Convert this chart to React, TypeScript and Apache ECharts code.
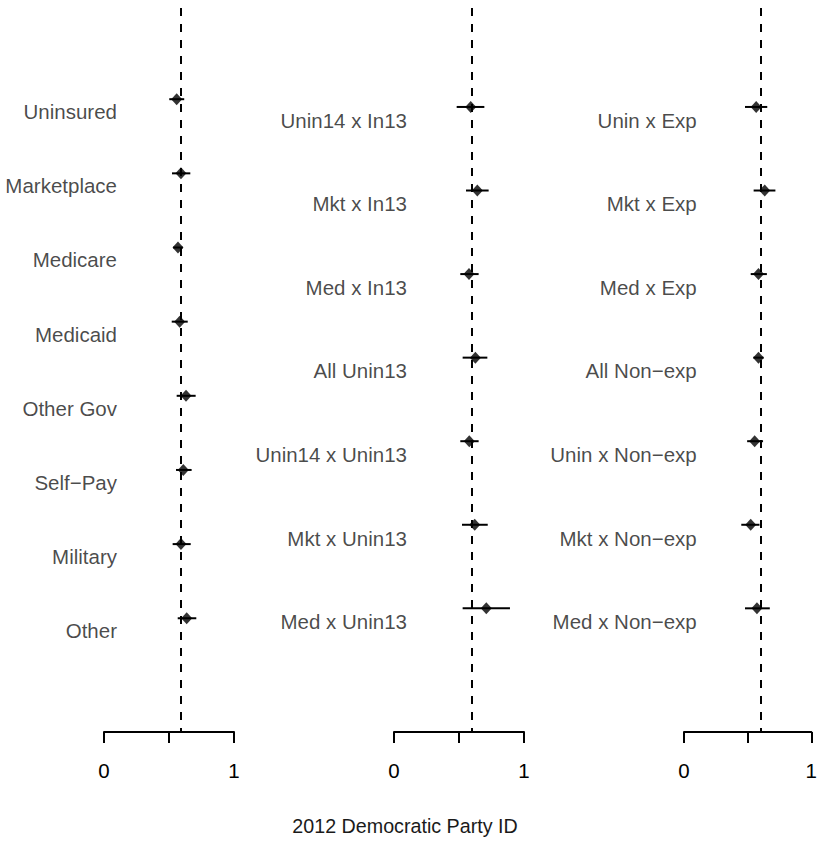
import React, { useEffect, useRef } from "react";
import * as echarts from "echarts";

// ---------- data ----------
const P1_LABELS = ["Uninsured", "Marketplace", "Medicare", "Medicaid", "Other Gov", "Self\u2212Pay", "Military", "Other"];
const P1_EST = [0.559, 0.592, 0.569, 0.582, 0.631, 0.610, 0.592, 0.636];
const P1_LO = [0.502, 0.523, 0.532, 0.521, 0.559, 0.554, 0.528, 0.567];
const P1_HI = [0.617, 0.664, 0.606, 0.644, 0.705, 0.674, 0.667, 0.710];

const P2_LABELS = ["Unin14 x In13", "Mkt x In13", "Med x In13", "All Unin13", "Unin14 x Unin13", "Mkt x Unin13", "Med x Unin13"];
const P2_EST = [0.590, 0.641, 0.577, 0.626, 0.579, 0.621, 0.710];
const P2_LO = [0.482, 0.554, 0.510, 0.528, 0.510, 0.523, 0.528];
const P2_HI = [0.695, 0.728, 0.651, 0.718, 0.651, 0.721, 0.892];

const P3_LABELS = ["Unin x Exp", "Mkt x Exp", "Med x Exp", "All Non\u2212exp", "Unin x Non\u2212exp", "Mkt x Non\u2212exp", "Med x Non\u2212exp"];
const P3_EST = [0.567, 0.634, 0.585, 0.585, 0.555, 0.524, 0.573];
const P3_LO = [0.479, 0.547, 0.524, 0.545, 0.496, 0.450, 0.479];
const P3_HI = [0.654, 0.718, 0.651, 0.625, 0.621, 0.593, 0.674];

const REF_LINES = [0.59, 0.605, 0.605];
const X_TICK_LABELS: Record<string, string> = { "0": "0", "0.5": "", "1": "1" };
const X_TITLE = "2012 Democratic Party ID";
const LABEL_X = 0.1;

const PANELS = [
  { labels: P1_LABELS, est: P1_EST, lo: P1_LO, hi: P1_HI },
  { labels: P2_LABELS, est: P2_EST, lo: P2_LO, hi: P2_HI },
  { labels: P3_LABELS, est: P3_EST, lo: P3_LO, hi: P3_HI },
];

// ---------- layout (not data) ----------
const FONT = "'Liberation Sans', Arial, Helvetica, sans-serif";
const INK = "#000";
const GRID_LAYOUT = [
  { left: 104, width: 130, yMin: -0.339, yMax: 9.534, labelDy: 12.5 },
  { left: 394, width: 130, yMin: -0.281, yMax: 8.48, labelDy: 13.3 },
  { left: 684, width: 131, yMin: -0.281, yMax: 8.48, labelDy: 13.3 },
];

export default function App() {
  const ref = useRef<HTMLDivElement>(null);

  useEffect(() => {
    if (!ref.current) return;
    const chart = echarts.init(ref.current, null, { renderer: "svg" });

    const grid: any[] = [];
    const xAxis: any[] = [];
    const yAxis: any[] = [];
    const series: any[] = [];

    PANELS.forEach((p, i) => {
      const g = GRID_LAYOUT[i];
      grid.push({ left: g.left, width: g.width, top: 8, bottom: 112, containLabel: false });
      xAxis.push({
        type: "value",
        gridIndex: i,
        min: 0,
        max: 1,
        interval: 0.5,
        position: "bottom",
        splitLine: { show: false },
        axisLine: { show: true, onZero: false, lineStyle: { color: INK, width: 2 } },
        axisTick: { show: true, inside: false, length: 11, lineStyle: { color: INK, width: 2 } },
        axisLabel: {
          show: true,
          margin: 28,
          fontSize: 20.5,
          fontFamily: FONT,
          color: INK,
          formatter: (v: number) => X_TICK_LABELS[String(v)] ?? "",
        },
      });
      // y range chosen so that rows sit where they do in the reference (grid spans 8..732)
      const pxPerUnit = 724 / (g.yMax - g.yMin);
      const shift = 8 / pxPerUnit;
      yAxis.push({
        type: "value",
        gridIndex: i,
        inverse: true,
        min: g.yMin + shift,
        max: g.yMax,
        show: false,
      });

      const ciData = p.est.map((_, k) => [k + 1, p.lo[k], p.hi[k]]);
      series.push({
        type: "custom",
        xAxisIndex: i,
        yAxisIndex: i,
        silent: true,
        encode: { x: [1, 2], y: 0 },
        data: ciData,
        renderItem: (params: any, api: any) => {
          const a = api.coord([api.value(1), api.value(0)]);
          const b = api.coord([api.value(2), api.value(0)]);
          return {
            type: "line",
            shape: { x1: a[0], y1: a[1], x2: b[0], y2: b[1] },
            style: { stroke: INK, lineWidth: 2 },
          };
        },
        z: 3,
      });
      series.push({
        type: "scatter",
        xAxisIndex: i,
        yAxisIndex: i,
        silent: true,
        symbol: "diamond",
        symbolSize: [11, 12],
        itemStyle: { color: INK },
        data: p.est.map((v, k) => [v, k + 1]),
        z: 4,
        markLine: {
          silent: true,
          symbol: ["none", "none"],
          label: { show: false },
          lineStyle: { color: INK, width: 2, type: [8, 8] },
          data: [{ xAxis: REF_LINES[i] }],
          z: 2,
        },
      });
      series.push({
        type: "scatter",
        xAxisIndex: i,
        yAxisIndex: i,
        silent: true,
        symbolSize: 0,
        itemStyle: { color: "transparent" },
        data: p.labels.map((name, k) => ({ name, value: [LABEL_X, k + 1] })),
        label: {
          show: true,
          position: "left",
          distance: 0,
          offset: [0, g.labelDy],
          formatter: "{b}",
          fontSize: 20.5,
          fontFamily: FONT,
          color: "#1a1a1a",
        },
        z: 5,
      });
    });

    chart.setOption({
      animation: false,
      backgroundColor: "#fff",
      grid,
      xAxis,
      yAxis,
      series,
      graphic: [
        {
          type: "text",
          x: 405,
          y: 826,
          style: {
            text: X_TITLE,
            fontSize: 19.7,
            fontFamily: FONT,
            fill: "#1a1a1a",
            textAlign: "center",
            textVerticalAlign: "middle",
          },
        },
      ],
    });

    return () => chart.dispose();
  }, []);

  return (
    <div
      ref={ref}
      style={{ position: "absolute", left: 0, top: 0, width: 820, height: 844 }}
    />
  );
}
